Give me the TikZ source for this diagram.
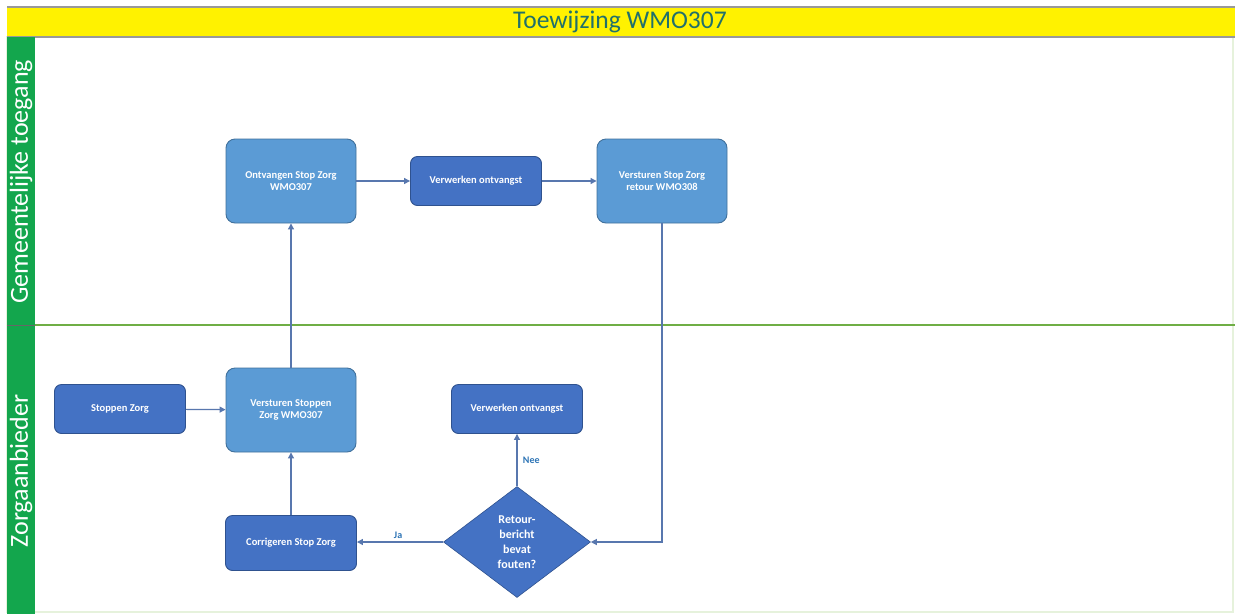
\documentclass[tikz,border=0pt]{standalone}
\usepackage{fontspec}
\setmainfont{Carlito}
\usetikzlibrary{shapes.geometric,arrows.meta}
\definecolor{lightbox}{HTML}{5B9BD5}
\definecolor{lightedge}{HTML}{41719C}
\definecolor{darkbox}{HTML}{4472C4}
\definecolor{darkedge}{HTML}{2F528F}
\definecolor{arrowc}{HTML}{5877AE}
\definecolor{lanegreen}{HTML}{13A64D}
\definecolor{lineg}{HTML}{6FAE45}
\definecolor{titletext}{HTML}{21706B}
\definecolor{labelblue}{HTML}{2E75B6}
\definecolor{frameg}{HTML}{E6F2DC}
\tikzset{
  boxbase/.style={rounded corners=9pt, line width=0.9pt, text=white, font=\bfseries\fontsize{10.5}{12.5}\selectfont, align=center, inner sep=2pt},
  lightstep/.style={boxbase, fill=lightbox, draw=lightedge, minimum width=130pt, minimum height=84pt},
  darkstep/.style={boxbase, fill=darkbox, draw=darkedge, minimum width=131pt, minimum height=49pt, rounded corners=7pt},
  decision/.style={diamond, fill=darkbox, draw=darkedge, line width=0.6pt, text=white, font=\bfseries\fontsize{12}{15}\selectfont, align=center, minimum width=147pt, minimum height=111pt, inner sep=0pt, aspect=1.32},
  flow/.style={draw=arrowc, line width=1.2pt, -{Triangle[length=6pt,width=6pt]}},
  edgelabel/.style={text=labelblue, font=\bfseries\fontsize{10}{11}\selectfont},
  lanelabel/.style={rotate=90, text=white, font=\fontsize{26}{28}\selectfont}
}
\begin{document}
\begin{tikzpicture}[x=1pt,y=-1pt]
\useasboundingbox (0,0) rectangle (1235,614);
\fill[white] (0,0) rectangle (1235,614);
% outer frame
\draw[frameg, line width=2pt] (7,37) rectangle (1233,612);
% title bar
\fill[yellow] (7,7) rectangle (1235,37);
\draw[gray!80, line width=1.2pt] (7,7) -- (1235,7);
\draw[gray!80, line width=1.2pt] (7,37) -- (1235,37);
\node[text=titletext, font=\fontsize{25.5}{28}\selectfont] (title) at (620,22) {Toewijzing WMO307};
% lane bar
\fill[lanegreen] (7,37) rectangle (35,614);
\draw[lineg, line width=1.2pt] (35,325) -- (1235,325);
\draw[black!60, line width=1pt] (7,325) -- (35,325);
\node[lanelabel] (lane1) at (21,182) {Gemeentelijke toegang};
\node[lanelabel] (lane2) at (21,471) {Zorgaanbieder};
% nodes
\node[lightstep] (ontv) at (291,181) {Ontvangen Stop Zorg\\WMO307};
\node[darkstep] (verw1) at (476,181) {Verwerken ontvangst};
\node[lightstep] (retour) at (662,181) {Versturen Stop Zorg\\retour WMO308};
\node[darkstep] (stop) at (120,409) {Stoppen Zorg};
\node[lightstep] (verst) at (291,410) {Versturen Stoppen\\Zorg WMO307};
\node[darkstep] (verw2) at (517,409) {Verwerken ontvangst};
\node[darkstep, minimum height=55pt] (corr) at (291,543) {Corrigeren Stop Zorg};
\node[decision] (dia) at (517,542) {Retour-\\bericht\\bevat\\fouten?};
% connectors
\draw[flow] (ontv) -- (verw1);
\draw[flow] (verw1) -- (retour);
\draw[flow] (retour.south) |- (dia.east);
\draw[flow] (dia.north) -- node[edgelabel, right, pos=0.5, xshift=2pt] {Nee} (verw2.south);
\draw[flow] (dia.west) -- node[edgelabel, above, pos=0.5, xshift=-2pt] {Ja} (dia.west -| corr.east);
\draw[flow] (corr) -- (verst);
\draw[flow] (stop) -- (verst);
\draw[flow] (verst) -- (ontv);
\end{tikzpicture}
\end{document}
